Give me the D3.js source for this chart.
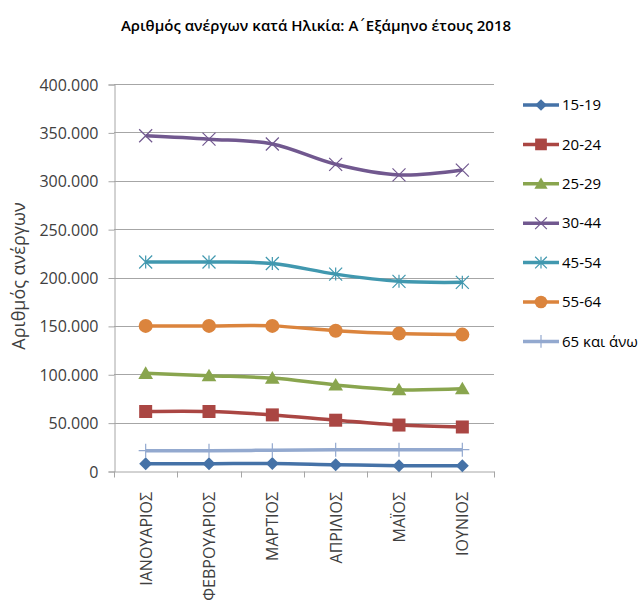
<!DOCTYPE html>
<html>
<head>
<meta charset="utf-8">
<script src="https://cdn.jsdelivr.net/npm/d3@7"></script>
<style>
  body { margin: 0; background: #fff; }
  text { font-family: "Open Sans", "DejaVu Sans", sans-serif; }
</style>
</head>
<body>
<div id="graph"></div>
<script>
// months on the x axis
var months = ["ΙΑΝΟΥΑΡΙΟΣ", "ΦΕΒΡΟΥΑΡΙΟΣ", "ΜΑΡΤΙΟΣ", "ΑΠΡΙΛΙΟΣ", "ΜΑΪΟΣ", "ΙΟΥΝΙΟΣ"];
var ageGroups = ["15-19", "20-24", "25-29", "30-44", "45-54", "55-64", "65 και άνω"];

// unemployed per age group
var v15_19 = [7500, 7500, 7800, 6500, 5500, 5500];
var v20_24 = [61500, 61500, 58000, 52500, 47500, 45500];
var v25_29 = [101000, 98500, 96000, 89000, 84000, 85000];
var v30_44 = [346500, 343000, 338000, 317000, 306000, 311000];
var v45_54 = [216000, 216000, 214500, 203500, 196000, 195000];
var v55_64 = [150000, 150000, 150000, 145000, 142000, 141000];
var v65 = [21000, 21000, 21500, 22000, 22000, 22000];

var yTicks = [0, 50000, 100000, 150000, 200000, 250000, 300000, 350000, 400000];

var series = [
    {name: ageGroups[0], values: v15_19, color: "#4572A7", marker: "diamond"},
    {name: ageGroups[1], values: v20_24, color: "#AA4643", marker: "square"},
    {name: ageGroups[2], values: v25_29, color: "#89A54E", marker: "triangle"},
    {name: ageGroups[3], values: v30_44, color: "#71588F", marker: "x"},
    {name: ageGroups[4], values: v45_54, color: "#4198AF", marker: "star"},
    {name: ageGroups[5], values: v55_64, color: "#DB843D", marker: "circle"},
    {name: ageGroups[6], values: v65, color: "#93A9CF", marker: "plus"}
];

var width = 639, height = 615;
var plotLeft = 114, plotRight = 494, plotTop = 84, plotBottom = 471;

var svg = d3.select("#graph").append("svg")
    .attr("width", width)
    .attr("height", height);

var xScale = d3.scaleBand().domain(months).range([plotLeft, plotRight]);
var yScale = d3.scaleLinear().domain([0, 400000]).range([plotBottom, plotTop]);
var fmt = function(d) { return d3.format(",")(d).replace(/,/g, "."); };

// title (tonos in DejaVu so it keeps its own width)
var title = svg.append("text")
    .attr("x", 316).attr("y", 31)
    .attr("text-anchor", "middle")
    .style("font-size", "15px")
    .style("font-weight", "600")
    .attr("fill", "#000");
title.append("tspan").text("Αριθμός ανέργων κατά Ηλικία: Α");
title.append("tspan").style("font-family", "'DejaVu Sans'").style("font-weight", "normal").text("\u0384");
title.append("tspan").text("Εξάμηνο έτους 2018");

// gridlines
svg.append("g").selectAll("line").data(yTicks.slice(1)).enter().append("line")
    .attr("x1", plotLeft).attr("x2", plotRight)
    .attr("y1", function(d) { return Math.round(yScale(d)) + 0.5; })
    .attr("y2", function(d) { return Math.round(yScale(d)) + 0.5; })
    .attr("stroke", "#a6a6a6").attr("stroke-width", 1);

// y axis
var yAxis = svg.append("g")
    .attr("transform", "translate(" + (plotLeft + 0.5) + ",0.5)")
    .call(d3.axisLeft(yScale).tickValues(yTicks).tickFormat(fmt).tickSize(6).tickPadding(10));
yAxis.select(".domain").attr("stroke", "#a6a6a6");
yAxis.selectAll(".tick line").attr("stroke", "#a6a6a6");
yAxis.selectAll("text").style("font-size", "16px").attr("fill", "#404040")
    .attr("dy", "0.35em");

// x axis
var xAxis = svg.append("g")
    .attr("transform", "translate(0," + (plotBottom + 0.5) + ")")
    .call(d3.axisBottom(xScale).tickSize(0).tickFormat(""));
xAxis.select(".domain").attr("stroke", "#a6a6a6");
var xBounds = months.map(function(m) { return xScale(m); }).concat([plotRight]);
xAxis.selectAll(".sep").data(xBounds).enter().append("line")
    .attr("x1", function(d) { return Math.round(d) + 0.5; })
    .attr("x2", function(d) { return Math.round(d) + 0.5; })
    .attr("y1", 0).attr("y2", 6)
    .attr("stroke", "#a6a6a6");

svg.append("g").selectAll("text").data(months).enter().append("text")
    .attr("transform", function(d) {
        return "translate(" + (xScale(d) + xScale.bandwidth() / 2 + 6) + "," + (plotBottom + 21) + ") rotate(-90)";
    })
    .attr("text-anchor", "end")
    .style("font-size", "16px")
    .attr("fill", "#404040")
    .text(function(d) { return d; });

// y axis title
svg.append("text")
    .attr("transform", "translate(25,276) rotate(-90)")
    .attr("text-anchor", "middle")
    .style("font-size", "18px")
    .attr("fill", "#404040")
    .text("Αριθμός ανέργων");

function drawMarker(g, type, color, s) {
    if (type === "diamond") {
        g.append("path").attr("d", "M0," + (-s) + "L" + s + ",0L0," + s + "L" + (-s) + ",0Z").attr("fill", color);
    } else if (type === "square") {
        g.append("rect").attr("x", -s).attr("y", -s).attr("width", 2 * s).attr("height", 2 * s).attr("fill", color);
    } else if (type === "triangle") {
        g.append("path").attr("d", "M0," + (-s) + "L" + (s * 1.05) + "," + (s * 0.8) + "L" + (-s * 1.05) + "," + (s * 0.8) + "Z").attr("fill", color);
    } else if (type === "circle") {
        g.append("circle").attr("r", s).attr("fill", color);
    } else if (type === "x") {
        g.append("path").attr("d", "M" + (-s) + "," + (-s) + "L" + s + "," + s + "M" + (-s) + "," + s + "L" + s + "," + (-s))
            .attr("stroke", color).attr("stroke-width", 1.2);
    } else if (type === "star") {
        g.append("path").attr("d", "M" + (-s) + "," + (-s) + "L" + s + "," + s + "M" + (-s) + "," + s + "L" + s + "," + (-s) + "M0," + (-s) + "L0," + s)
            .attr("stroke", color).attr("stroke-width", 1.2);
    } else if (type === "plus") {
        g.append("path").attr("d", "M0," + (-s) + "L0," + s + "M" + (-s) + ",0L" + s + ",0")
            .attr("stroke", color).attr("stroke-width", 1.2);
    }
}

var markerSize = {diamond: 6.5, square: 6.5, triangle: 7, circle: 7, x: 6.5, star: 6.5, plus: 7};

var line = d3.line()
    .x(function(d, i) { return xScale(months[i]) + xScale.bandwidth() / 2; })
    .y(function(d) { return yScale(d); })
    .curve(d3.curveCatmullRom.alpha(0.5));

var plot = svg.append("g");
series.forEach(function(s) {
    var g = plot.append("g");
    g.append("path")
        .attr("d", line(s.values))
        .attr("fill", "none")
        .attr("stroke", s.color)
        .attr("stroke-width", 3.5)
        .attr("stroke-linejoin", "round");
    s.values.forEach(function(v, i) {
        var m = g.append("g")
            .attr("transform", "translate(" + (xScale(months[i]) + xScale.bandwidth() / 2) + "," + yScale(v) + ")");
        drawMarker(m, s.marker, s.color, markerSize[s.marker]);
    });
});

// legend
var legend = svg.append("g");
series.forEach(function(s, i) {
    var y = 105 + i * 39.4;
    var g = legend.append("g").attr("transform", "translate(0," + y + ")");
    g.append("line").attr("x1", 523).attr("x2", 559).attr("y1", 0).attr("y2", 0)
        .attr("stroke", s.color).attr("stroke-width", 3.5);
    var m = g.append("g").attr("transform", "translate(541,0)");
    drawMarker(m, s.marker, s.color, markerSize[s.marker] * 0.9);
    g.append("text").attr("x", 562).attr("y", 0).attr("dy", "0.35em")
        .style("font-size", "15px").attr("fill", "#000")
        .text(s.name);
});
</script>
</body>
</html>
